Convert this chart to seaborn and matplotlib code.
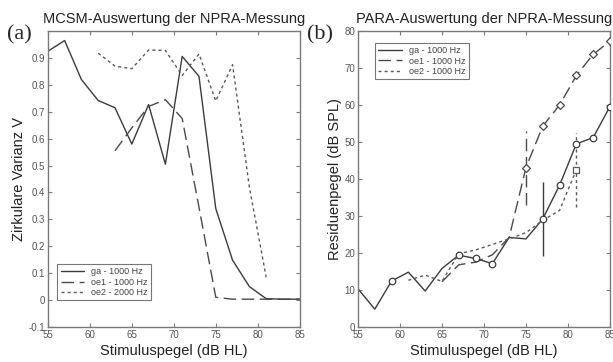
import pandas as pd
import matplotlib
matplotlib.use("Agg")
import matplotlib.pyplot as plt
import seaborn as sns

# (a) MCSM: circular variance per stimulus level
mcsm_ga_x = [55, 57, 59, 61, 63, 65, 67, 69, 71, 73, 75, 77, 79, 81, 83, 85]
mcsm_ga_y = [0.925, 0.965, 0.82, 0.742, 0.715, 0.58, 0.727, 0.505, 0.906, 0.832,
             0.34, 0.148, 0.05, 0.005, 0.003, 0.003]
mcsm_oe1_x = [63, 65, 67, 69, 71, 73, 75, 77, 79, 81, 83, 85]
mcsm_oe1_y = [0.555, 0.64, 0.72, 0.745, 0.675, 0.345, 0.01, 0.003, 0.003, 0.003, 0.003, 0.003]
mcsm_oe2_x = [61, 63, 65, 67, 69, 71, 73, 75, 77, 79, 81]
mcsm_oe2_y = [0.918, 0.87, 0.86, 0.93, 0.928, 0.835, 0.915, 0.74, 0.875, 0.42, 0.085]

# (b) PARA: residual level per stimulus level
para_ga_x = [55, 57, 59, 61, 63, 65, 67, 69, 71, 73, 75, 77, 79, 81, 83, 85]
para_ga_y = [10.3, 4.8, 12.4, 14.8, 9.7, 15.8, 19.4, 18.5, 17.1, 24.2, 23.8, 29.2, 38.3, 49.5, 51.2, 59.6]
para_ga_marked = [59, 67, 69, 71, 77, 79, 81, 83, 85]
para_oe1_x = [65, 67, 69, 71, 73, 75, 77, 79, 81, 83, 85]
para_oe1_y = [12.2, 16.8, 17.5, 19.5, 24.2, 43.1, 54.3, 60.0, 68.0, 73.7, 77.3]
para_oe1_marked = [75, 77, 79, 81, 83, 85]
para_oe2_x = [61, 63, 65, 67, 69, 71, 73, 75, 77, 79, 81]
para_oe2_y = [12.6, 14.0, 12.3, 19.8, 20.8, 22.3, 23.8, 25.5, 28.8, 31.5, 42.5]
para_oe2_marked = [81]

# error bars (x, y, half width)
err_ga = (77, 29.2, 10.0)
err_oe1 = (75, 43.1, 10.0)
err_oe2 = (81, 42.5, 10.0)

labels_a = ["ga - 1000 Hz", "oe1 - 1000 Hz", "oe2 - 2000 Hz"]
labels_b = ["ga - 1000 Hz", "oe1 - 1000 Hz", "oe2 - 1000 Hz"]

x_ticks = [55, 60, 65, 70, 75, 80, 85]
y_ticks_a = [-0.1, 0, 0.1, 0.2, 0.3, 0.4, 0.5, 0.6, 0.7, 0.8, 0.9]
y_ticklabels_a = ["-0.1", "0", "0.1", "0.2", "0.3", "0.4", "0.5", "0.6", "0.7", "0.8", "0.9"]
y_ticks_b = [0, 10, 20, 30, 40, 50, 60, 70, 80]

sns.set_style("white")
plt.rcParams['font.family'] = ['Liberation Sans', 'DejaVu Sans']
plt.rcParams['axes.unicode_minus'] = False

c_ga = "#3c3c3c"
c_oe1 = "#4a4a4a"
c_oe2 = "#5a5a5a"
styles = {"ga": (c_ga, "-"), "oe1": (c_oe1, (0, (9, 4))), "oe2": (c_oe2, (0, (2.2, 2.2)))}

fig = plt.figure(figsize=(6.13, 3.62), dpi=100)
ax_a = fig.add_axes([0.078, 0.097, 0.411, 0.817])
ax_b = fig.add_axes([0.584, 0.097, 0.411, 0.817])


def style_axes(ax):
    for sp in ax.spines.values():
        sp.set_color("#7a7a7a")
        sp.set_linewidth(1.0)
    ax.tick_params(direction="in", length=3, width=0.8, color="#7a7a7a",
                   labelsize=7, labelcolor="#555555", top=True, right=True,
                   bottom=True, left=True, pad=2)
    ax.set_xlabel("Stimuluspegel (dB HL)", fontsize=10.5, color="#222222", labelpad=3)


def style_legend(leg):
    leg.get_frame().set_edgecolor("#555555")
    leg.get_frame().set_linewidth(0.8)
    for t in leg.get_texts():
        t.set_color("#444444")


# panel (a)
for key, xs, ys, lab in [("ga", mcsm_ga_x, mcsm_ga_y, labels_a[0]),
                         ("oe1", mcsm_oe1_x, mcsm_oe1_y, labels_a[1]),
                         ("oe2", mcsm_oe2_x, mcsm_oe2_y, labels_a[2])]:
    col, ls = styles[key]
    sns.lineplot(x=xs, y=ys, ax=ax_a, color=col, linestyle=ls, linewidth=1.0, label=lab)
ax_a.set_xlim(55, 85)
ax_a.set_ylim(-0.1, 1.0)
ax_a.set_xticks(x_ticks)
ax_a.set_yticks(y_ticks_a)
ax_a.set_yticklabels(y_ticklabels_a)
style_axes(ax_a)
ax_a.set_ylabel("Zirkulare Varianz V", fontsize=10.5, color="#222222", labelpad=2)
ax_a.set_title("MCSM-Auswertung der NPRA-Messung", fontsize=10.5, color="#222222", pad=6)
style_legend(ax_a.legend(loc="lower left", bbox_to_anchor=(0.02, 0.075), fontsize=6.5,
                         frameon=True, fancybox=False, handlelength=2.6, borderpad=0.35,
                         labelspacing=0.15, handletextpad=0.8))

# panel (b)
para = [("ga", para_ga_x, para_ga_y, para_ga_marked, "o", labels_b[0], err_ga),
        ("oe1", para_oe1_x, para_oe1_y, para_oe1_marked, "D", labels_b[1], err_oe1),
        ("oe2", para_oe2_x, para_oe2_y, para_oe2_marked, "s", labels_b[2], err_oe2)]
for key, xs, ys, marked, mk, lab, err in para:
    col, ls = styles[key]
    sns.lineplot(x=xs, y=ys, ax=ax_b, color=col, linestyle=ls, linewidth=1.0, label=lab)
    df = pd.DataFrame({"x": xs, "y": ys})
    df = df[df["x"].isin(marked)]
    ax_b.scatter(df["x"], df["y"], marker=mk, s=22 if mk != "D" else 16,
                 facecolors="white", edgecolors=col, linewidths=0.9, zorder=3)
    ex, ey, eh = err
    eb = ax_b.errorbar([ex], [ey], yerr=[eh], fmt="none", ecolor=col, elinewidth=1.0, capsize=0)
    for coll in eb.lines[2]:
        coll.set_linestyle(ls)
ax_b.set_xlim(55, 85)
ax_b.set_ylim(0, 80)
ax_b.set_xticks(x_ticks)
ax_b.set_yticks(y_ticks_b)
style_axes(ax_b)
ax_b.set_ylabel("Residuenpegel (dB SPL)", fontsize=10.5, color="#222222", labelpad=2)
ax_b.set_title("PARA-Auswertung der NPRA-Messung", fontsize=10.5, color="#222222", pad=6)
style_legend(ax_b.legend(loc="upper left", bbox_to_anchor=(0.05, 0.975), fontsize=6.5,
                         frameon=True, fancybox=False, handlelength=2.6, borderpad=0.35,
                         labelspacing=0.15, handletextpad=0.8))

fig.text(0.011, 0.903, "(a)", fontsize=16, family="Liberation Serif", va="center")
fig.text(0.500, 0.903, "(b)", fontsize=16, family="Liberation Serif", va="center")

fig.savefig("out.png", dpi=100)
